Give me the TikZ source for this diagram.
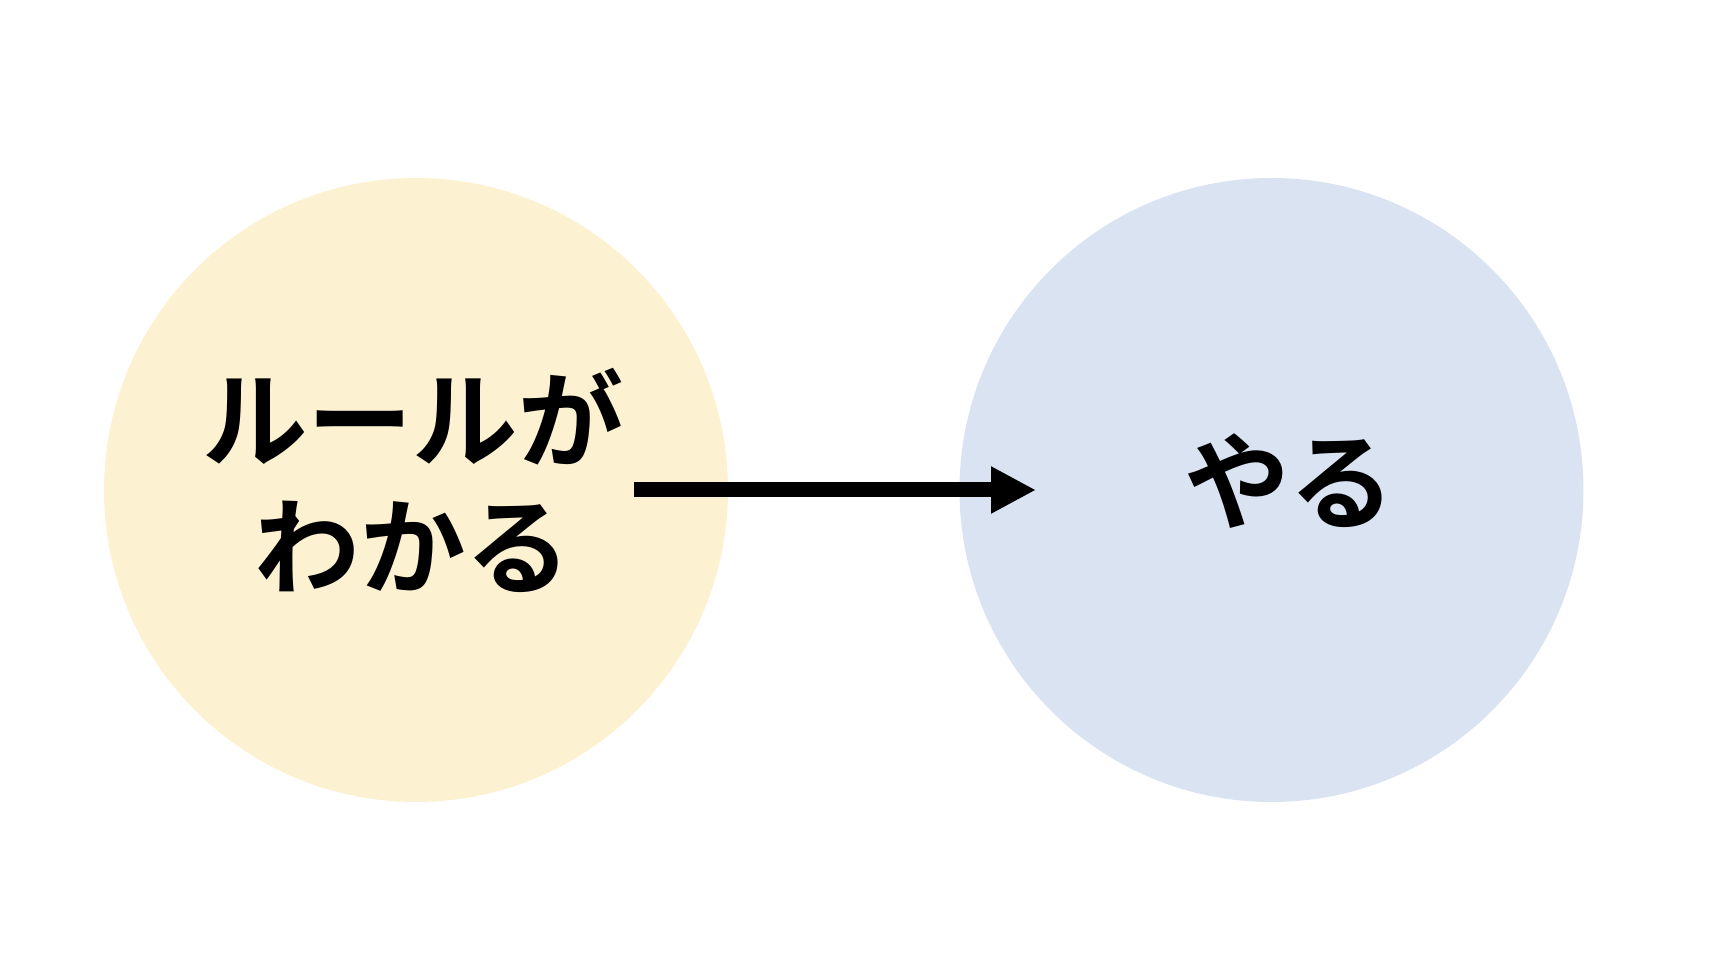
\documentclass[tikz,border=0pt]{standalone}
\usepackage{fontspec}
\newfontfamily\jpfont{Noto Sans CJK JP Bold}
\usetikzlibrary{arrows.meta}
\def\largeur{17.16}
\def\hauteur{9.78}
\def\rayon{3.12cm}
\definecolor{jaunepale}{HTML}{FCF1D1}
\definecolor{bleupale}{HTML}{DAE3F2}

\begin{document}
\begin{tikzpicture}[x=1cm, y=1cm,
    rond/.style={circle, inner sep=0pt, minimum size=2*\rayon},
    texte/.style={font=\jpfont\fontsize{30}{36.1}\selectfont, align=center}]
    \useasboundingbox (0,0) rectangle (\largeur,\hauteur);
    \node[rond, fill=jaunepale] (comprendre) at (4.16,4.88) {};
    \node[rond, fill=bleupale] (faire) at (12.715,4.88) {};
    \node[texte] (comprendretexte) at (4.13,4.98) {ルールが\\わかる};
    \node[texte] (fairetexte) at (12.9,4.97) {やる};
%\draw[line width=0.15cm] (comprendre) -- (faire);
    \coordinate (depart) at (6.34,4.88);
    \coordinate (arrivee) at (10.36,4.88);
    \draw[line width=0.15cm, -{Triangle[length=0.45cm, width=0.44cm]}] (depart) -- (arrivee);
\end{tikzpicture}
\end{document}
